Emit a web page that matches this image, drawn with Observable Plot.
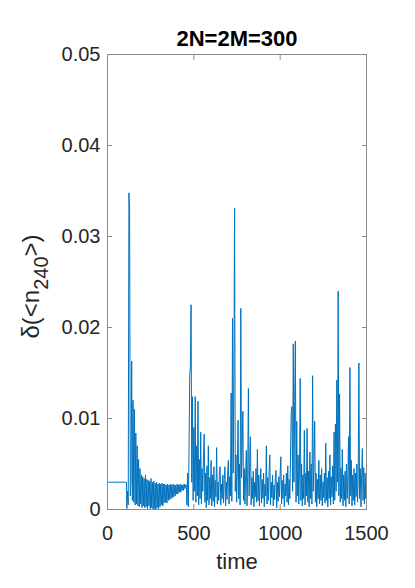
<!DOCTYPE html>
<html><head><meta charset="utf-8">
<script src="https://cdn.jsdelivr.net/npm/d3@7"></script>
<script src="https://cdn.jsdelivr.net/npm/@observablehq/plot@0.6"></script>
<style>html,body{margin:0;padding:0;background:#fff;} svg{display:block}</style>
</head><body><div id="chart"></div>
<script>
const title = "2N=2M=300";
const xLabel = "time";
const yLabelMain = "δ(<n";
const yLabelSub = "240";
const yLabelEnd = ">)";
const xTicks = [0, 500, 1000, 1500];
const yTicks = [0, 0.01, 0.02, 0.03, 0.04, 0.05];

// initial flat part
const initTime = [0, 110];
const initValue = [0.003, 0.003];

// read-off samples every 4 time units from t = 112, values in units of 1e-4
const sampleStart = 112;
const sampleStep = 4;
const deltaE4 = [
  // 112-200
  1, 20, 5, 348, 330, 15, 30, 163, 10, 120, 8, 110, 5, 84, 6, 70, 4, 55, 3, 45, 6, 38, 2,
  // 204-452
  36, 4, 34, 2, 38, 3, 33, 1, 32, 4, 31, 1, 34, 2, 30, 0, 31, 1, 29, 0,
  30, 2, 28, 1, 29, 3, 28, 5, 29, 4, 28, 7, 28, 8, 27, 7, 28, 10, 27, 11,
  28, 12, 27, 13, 28, 14, 27, 15, 27, 17, 28, 17, 27, 19, 28, 19, 27, 21, 27, 21,
  28, 23, 27,
  // 456-1500
  27, 5, 40, 3, 60, 146, 157, 225, 30, 124,
  10, 90, 20, 124, 8, 70, 15, 119, 5, 55,
  12, 85, 6, 45, 20, 60, 83, 8, 40, 2,
  48, 10, 70, 5, 35, 12, 54, 4, 38, 9,
  47, 3, 32, 14, 68, 6, 30, 10, 42, 47,
  5, 28, 12, 38, 7, 33, 47, 4, 30, 11,
  40, 54, 6, 36, 15, 128, 9, 210, 40, 150,
  331, 20, 60, 8, 45, 98, 12, 50, 5, 221,
  35, 70, 108, 10, 45, 6, 38, 65, 4, 40,
  133, 15, 55, 80, 5, 35, 12, 42, 3, 30,
  14, 45, 8, 66, 10, 38, 4, 30, 45, 7,
  33, 12, 40, 3, 28, 15, 70, 6, 35, 10,
  42, 60, 5, 30, 13, 38, 4, 27, 11, 35,
  43, 2, 30, 9, 36, 14, 40, 58, 6, 32,
  12, 38, 3, 28, 15, 40, 8, 48, 5, 33,
  12, 60, 106, 113, 20, 182, 30, 120, 185, 8,
  97, 15, 60, 6, 45, 144, 10, 50, 4, 38,
  12, 87, 5, 40, 15, 89, 8, 42, 3, 63,
  12, 50, 6, 147, 20, 55, 97, 8, 40, 3,
  33, 12, 54, 6, 38, 10, 45, 4, 30, 13,
  40, 7, 73, 10, 35, 3, 42, 12, 60, 5,
  36, 14, 48, 6, 85, 10, 94, 20, 142, 30,
  240, 15, 127, 8, 45, 12, 66, 4, 38, 10,
  42, 3, 50, 12, 36, 80, 6, 156, 15, 54,
  4, 38, 10, 45, 5, 40, 14, 50, 8, 35,
  161, 12, 45, 3, 38, 67, 10, 46, 6, 40,
  12, 35
];

const data = initTime.map((t, i) => ({t, v: initValue[i]}));
deltaE4.forEach((d, i) => data.push({t: sampleStart + i * sampleStep, v: d / 1e4}));

const FONT = "'Liberation Sans', Arial, Helvetica, sans-serif";
const blue = "#0072BD", textColor = "#262626", frameColor = "#8c8c8c";
const labelSize = 24, subSize = 20;

function textWidth(s, size) {
  const c = document.createElement("canvas").getContext("2d");
  c.font = `${size}px ${FONT}`;
  return c.measureText(s).width;
}
const w1 = textWidth(yLabelMain, labelSize);
const w2 = textWidth(yLabelSub, subSize);

const mL = 107, mR = 49, mT = 54, mB = 79;
const labelDx = 38 - mL;       // baseline x of rotated label
const labelStartDy = 338 - (mT + (588 - mT - mB) / 2);

const chart = Plot.plot({
  width: 415, height: 588,
  marginLeft: mL, marginRight: mR, marginTop: mT, marginBottom: mB,
  style: {fontFamily: FONT, background: "#fff", color: textColor},
  x: {domain: [0, 1500]},
  y: {domain: [0, 0.05]},
  marks: [
    Plot.line(data, {x: "t", y: "v", stroke: blue, strokeWidth: 1}),
    Plot.frame({stroke: frameColor, strokeWidth: 1}),
    Plot.axisX(xTicks, {anchor: "bottom", tickSize: -5, tickPadding: 21, fontSize: 20, label: null, stroke: frameColor, fill: textColor, tickFormat: d => String(d)}),
    Plot.axisX(xTicks, {anchor: "top", tickSize: -5, tickFormat: () => "", label: null, stroke: frameColor}),
    Plot.axisY(yTicks, {anchor: "left", tickSize: -5, tickPadding: 12, fontSize: 20, label: null, stroke: frameColor, fill: textColor, tickFormat: d => d === 0 ? "0" : String(d)}),
    Plot.axisY(yTicks, {anchor: "right", tickSize: -5, tickFormat: () => "", label: null, stroke: frameColor}),
    Plot.text([title], {frameAnchor: "top", dy: -9, lineAnchor: "bottom", fontSize: 22, fontWeight: "bold", fill: "#000"}),
    Plot.text([xLabel], {frameAnchor: "bottom", dy: 59, lineAnchor: "bottom", fontSize: 22, fill: textColor}),
    Plot.text([yLabelMain], {frameAnchor: "left", rotate: -90, textAnchor: "start", lineAnchor: "bottom", dx: labelDx, dy: labelStartDy, fontSize: labelSize, fill: textColor}),
    Plot.text([yLabelSub], {frameAnchor: "left", rotate: -90, textAnchor: "start", lineAnchor: "bottom", dx: labelDx + 9, dy: labelStartDy - w1, fontSize: subSize, fill: textColor}),
    Plot.text([yLabelEnd], {frameAnchor: "left", rotate: -90, textAnchor: "start", lineAnchor: "bottom", dx: labelDx, dy: labelStartDy - w1 - w2, fontSize: labelSize, fill: textColor})
  ]
});
document.getElementById("chart").appendChild(chart);
</script>
</body></html>
